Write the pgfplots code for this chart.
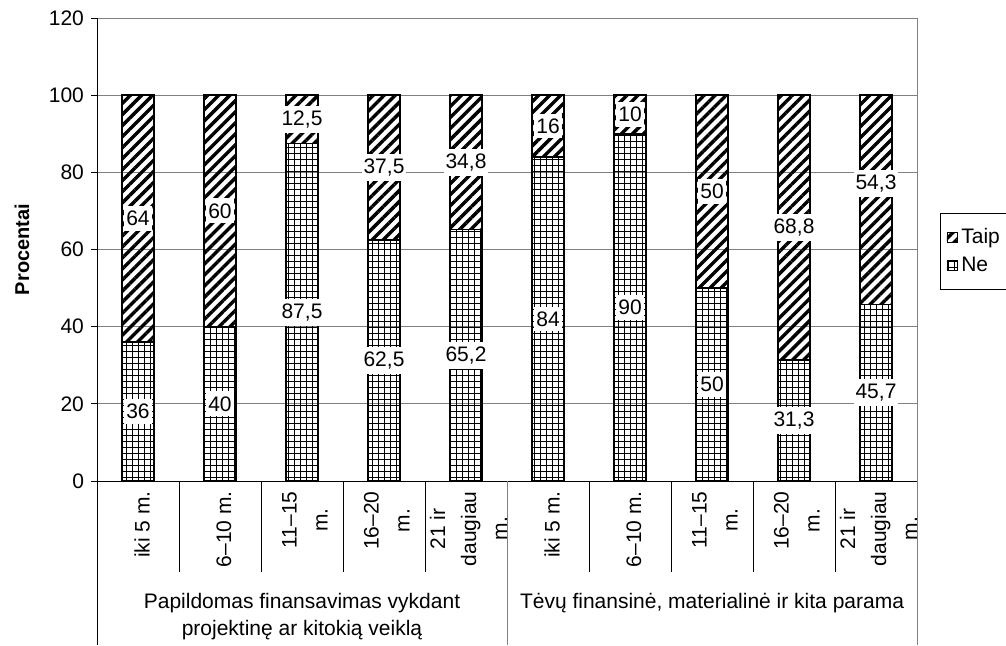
\documentclass[border=0pt]{standalone}
\usepackage{pgfplots}
\pgfplotsset{compat=1.18}
\usepackage{fontspec}
\setmainfont{Liberation Sans}
\usetikzlibrary{patterns.meta}
\tikzset{
 taippat/.style={pattern={Lines[angle=45,distance=3.9pt,line width=1.7pt]}, pattern color=black},
 nepat/.style={pattern={Hatch[angle=0,distance=3pt,line width=0.5pt]}, pattern color=black},
}
\pgfplotsset{sqlegend/.style={legend image code/.code={\draw[##1, line width=0.4pt] (0pt,-2.5pt) rectangle (5pt,2.5pt);}}}
\newcommand\fs{\fontsize{10.5}{15.5}\selectfont}
\newcommand\tl[1]{\begin{tabular}{@{}c@{}}#1\end{tabular}}
\begin{document}
\begin{tikzpicture}
\useasboundingbox (-48.5pt,-82pt) rectangle (454.5pt,240.5pt);
\begin{axis}[
  at={(0,0)}, anchor=south west, scale only axis,
  width=410pt, height=231.5pt,
  xmin=0.5, xmax=10.5, ymin=0, ymax=120,
  ybar stacked, bar width=16pt,
  axis line style={draw=none},
  xtick={1,...,10},
  xticklabels={{iki 5 m.},{6--10 m.},{\tl{11--15\\m.}},{\tl{16--20\\m.}},{\tl{21 ir\\daugiau\\m.}},{iki 5 m.},{6--10 m.},{\tl{11--15\\m.}},{\tl{16--20\\m.}},{\tl{21 ir\\daugiau\\m.}}},
  major x tick style={draw=none},
  xticklabel style={rotate=90, anchor=east, font=\fs, inner sep=2pt, yshift=-2pt},
  ytick={0,20,...,120},
  ytick pos=left,
  tick align=outside,
  major tick length=3pt,
  major y tick style={black, line width=0.5pt},
  yticklabel style={font=\fs},
  /pgf/number format/assume math mode=true,
  ymajorgrids, grid style={draw=gray, line width=0.5pt},
  ylabel={\bfseries Procentai},
  ylabel style={font=\fontsize{10}{12}\selectfont, at={(rel axis cs:0,0.5)}, anchor=center, yshift=37.5pt},
  legend style={at={(1,0.579)}, anchor=north west, xshift=11.5pt, draw=black, line width=0.5pt,
    inner xsep=3pt, inner ysep=5.5pt, row sep=1pt, font=\fs, legend cell align=left},
  reverse legend,
]
\addplot[draw=black, line width=0.8pt, nepat, sqlegend]
  coordinates {(1,36) (2,40) (3,87.5) (4,62.5) (5,65.2) (6,84) (7,90) (8,50) (9,31.3) (10,45.7)};
\addplot[draw=black, line width=0.8pt, taippat, sqlegend]
  coordinates {(1,64) (2,60) (3,12.5) (4,37.5) (5,34.8) (6,16) (7,10) (8,50) (9,68.8) (10,54.3)};
\legend{Ne, Taip}
\end{axis}
\begin{axis}[
  at={(0,0)}, anchor=south west, scale only axis,
  width=410pt, height=231.5pt,
  xmin=0.5, xmax=10.5, ymin=0, ymax=120, hide axis,
  point meta=explicit symbolic,
  nodes near coords, nodes near coords align={center},
  every node near coord/.append style={fill=white, inner xsep=1pt, inner ysep=2.5pt, font=\fs, text=black},
]
\addplot[only marks, mark=none] table[meta=label] {
x y label
1 18 36
2 20 40
3 43.75 87,5
4 31.25 62,5
5 32.6 65,2
6 42 84
7 45 90
8 25 50
9 15.65 31,3
10 22.85 45,7
1 68 64
2 70 60
3 93.75 12,5
4 81.25 37,5
5 82.6 34,8
6 92 16
7 95 10
8 75 50
9 65.65 68,8
10 77.15 54,3
};
\end{axis}
% frame and category separators
\draw[black, line width=0.5pt] (0,231.5pt) -- (0,-82pt);
\draw[black, line width=0.5pt] (0,0) -- (410pt,0);
\draw[gray, line width=0.5pt] (410pt,231.5pt) -- (410pt,-82pt);
\draw[gray, line width=0.5pt] (205pt,0) -- (205pt,-82pt);
\foreach \k in {1,2,3,4,6,7,8,9} \draw[black, line width=0.5pt] (\k*41pt,0) -- (\k*41pt,-45.5pt);
\node[font=\fontsize{10.5}{13.5}\selectfont, align=center, anchor=north] at (102.5pt,-52.5pt) {Papildomas finansavimas vykdant\\projektinę ar kitokią veiklą};
\node[font=\fontsize{10.5}{13.5}\selectfont, align=center, anchor=north] at (307.5pt,-52.5pt) {Tėvų finansinė, materialinė ir kita parama};
\end{tikzpicture}
\end{document}
